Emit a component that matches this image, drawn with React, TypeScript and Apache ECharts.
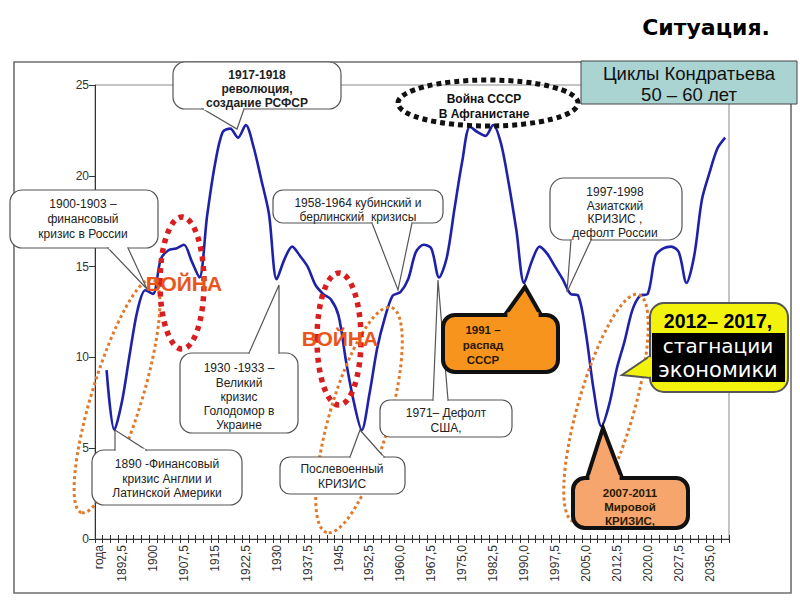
import React, { useEffect, useRef } from "react";
import * as echarts from "echarts";

// ---------- data ----------
const categoryCount = 82;
const tickLabels = [
  "года", "1892,5", "1900", "1907,5", "1915", "1922,5", "1930", "1937,5", "1945",
  "1952,5", "1960,0", "1967,5", "1975,0", "1982,5", "1990,0", "1997,5", "2005,0",
  "2012,5", "2020,0", "2027,5", "2035,0",
];
const values: (number | null)[] = [
  null, 9.3, 6.0, 7.6, 10.2, 12.6, 13.7, 13.5, 15.4, 15.9,
  16.0, 16.2, 15.3, 14.4, 17.8, 20.6, 22.4, 22.6, 22.1, 22.8,
  21.6, 19.8, 17.9, 14.3, 15.4, 16.1, 15.6, 15.0, 14.0, 13.5,
  13.2, 12.3, 9.7, 7.5, 6.0, 8.0, 10.5, 12.2, 13.4, 13.6,
  14.3, 15.8, 16.2, 16.0, 14.4, 15.5, 18.2, 20.8, 22.7, 22.4,
  22.2, 22.8, 21.8, 19.6, 17.0, 14.1, 15.3, 16.1, 15.7, 15.0,
  14.3, 13.5, 13.4, 11.3, 8.2, 6.2, 7.4, 9.4, 10.9, 12.6,
  13.4, 13.5, 15.6, 16.0, 16.1, 15.8, 14.1, 15.6, 18.7, 20.2,
  21.5, 22.1,
];
const yMin = 0;
const yMax = 25;
const yStep = 5;

const titleText = "Ситуация.";
const boxLines = ["Циклы Кондратьева", "50 – 60 лет"];
const warText = "ВОЙНА";
const afghanLines = ["Война СССР", "В Афганистане"];

const categories = Array.from({ length: categoryCount }, (_, i) => String(i));
const labelFor = (i: number) => {
  if (i === 0) return tickLabels[0];
  if (i >= 3 && (i - 3) % 4 === 0) return tickLabels[1 + (i - 3) / 4] ?? "";
  return "";
};

// ---------- annotations ----------
type Pt = [number, number];
type Callout = {
  x: number; y: number; w: number; h: number; r: number;
  fill: string; stroke: string; lw: number;
  base: [Pt, Pt]; tip: Pt;
  lines: string[]; ys: number[]; cx: number; font: string; color: string;
};

const REG = '12px "Liberation Sans", Arial, sans-serif';
const BOLD = 'bold 12px "Liberation Sans", Arial, sans-serif';
const BOLD11 = 'bold 11.5px "Liberation Sans", Arial, sans-serif';

const callouts: Callout[] = [
  {
    x: 173, y: 62, w: 168, h: 47, r: 12, fill: "#fff", stroke: "#555", lw: 1.2,
    base: [[203, 109], [244, 109]], tip: [237, 129],
    lines: ["1917-1918", "революция,", "создание РСФСР"], ys: [75, 89, 103], cx: 257,
    font: BOLD, color: "#222",
  },
  {
    x: 10, y: 190, w: 148, h: 58, r: 12, fill: "#fff", stroke: "#555", lw: 1.2,
    base: [[108, 248], [128, 248]], tip: [147, 289],
    lines: ["1900-1903 –", "финансовый", "кризис в России"], ys: [204, 219, 234], cx: 83,
    font: REG, color: "#222",
  },
  {
    x: 180, y: 353, w: 118, h: 80, r: 12, fill: "#fff", stroke: "#555", lw: 1.2,
    base: [[249, 353], [279, 353]], tip: [279, 285],
    lines: ["1930 -1933 –", "Великий", "кризис", "Голодомор в", "Украине"],
    ys: [368, 383, 397, 411, 425], cx: 239, font: REG, color: "#222",
  },
  {
    x: 92, y: 450, w: 150, h: 55, r: 12, fill: "#fff", stroke: "#555", lw: 1.2,
    base: [[115, 450], [146, 450]], tip: [115, 430],
    lines: ["1890 -Финансовый", "кризис Англии и", "Латинской Америки"],
    ys: [464, 479, 493], cx: 167, font: REG, color: "#222",
  },
  {
    x: 280, y: 457, w: 125, h: 37, r: 10, fill: "#fff", stroke: "#555", lw: 1.2,
    base: [[350, 457], [384, 457]], tip: [360, 430],
    lines: ["Послевоенный", "КРИЗИС"], ys: [469, 484], cx: 342, font: REG, color: "#222",
  },
  {
    x: 273, y: 190, w: 170, h: 33, r: 10, fill: "#fff", stroke: "#555", lw: 1.2,
    base: [[372, 223], [412, 223]], tip: [398, 290],
    lines: ["1958-1964 кубинский и", "берлинский  кризисы"], ys: [203, 217], cx: 358,
    font: REG, color: "#222",
  },
  {
    x: 380, y: 400, w: 132, h: 37, r: 10, fill: "#fff", stroke: "#555", lw: 1.2,
    base: [[433, 400], [448, 400]], tip: [438, 280],
    lines: ["1971– Дефолт", "США,"], ys: [413, 428], cx: 446, font: REG, color: "#222",
  },
  {
    x: 550, y: 178, w: 132, h: 62, r: 14, fill: "#fff", stroke: "#555", lw: 1.2,
    base: [[571, 240], [591, 240]], tip: [567, 292],
    lines: ["1997-1998", "Азиатский", "КРИЗИС ,", "дефолт России"],
    ys: [192, 206, 219, 233], cx: 615, font: REG, color: "#222",
  },
  {
    x: 443, y: 315, w: 115, h: 57, r: 12, fill: "#f7941d", stroke: "#111", lw: 4,
    base: [[505, 315], [541, 315]], tip: [525, 287],
    lines: ["1991 –", "распад", "СССР"], ys: [330, 345, 360], cx: 483,
    font: BOLD11, color: "#2a1800",
  },
  {
    x: 573, y: 478, w: 115, h: 50, r: 12, fill: "#f6a66c", stroke: "#111", lw: 4,
    base: [[587, 478], [622, 478]], tip: [603, 428],
    lines: ["2007-2011", "Мировой", "КРИЗИС,"], ys: [493, 507, 521], cx: 630,
    font: BOLD11, color: "#2a1800",
  },
  {
    x: 650, y: 303, w: 138, h: 89, r: 14, fill: "#f3f20c", stroke: "#555", lw: 2,
    base: [[650, 356], [650, 378]], tip: [622, 375],
    lines: [], ys: [], cx: 718, font: REG, color: "#000",
  },
];

function buildCallout(c: Callout, z: number): any[] {
  const [b0, b1] = c.base;
  const dx = b1[0] - b0[0];
  const dy = b1[1] - b0[1];
  const len = Math.hypot(dx, dy) || 1;
  const ux = dx / len;
  const uy = dy / len;
  const inset = c.lw * 0.6;
  const els: any[] = [
    {
      type: "rect", z, silent: true,
      shape: { x: c.x, y: c.y, width: c.w, height: c.h, r: c.r },
      style: { fill: c.fill, stroke: c.stroke, lineWidth: c.lw },
    },
    {
      type: "polygon", z: z + 1, silent: true,
      shape: { points: [b0, c.tip, b1] },
      style: { fill: c.fill, stroke: c.stroke, lineWidth: c.lw, lineJoin: "miter" },
    },
    {
      type: "line", z: z + 2, silent: true,
      shape: {
        x1: b0[0] + ux * inset, y1: b0[1] + uy * inset,
        x2: b1[0] - ux * inset, y2: b1[1] - uy * inset,
      },
      style: { stroke: c.fill, lineWidth: c.lw + 1.5 },
    },
  ];
  c.lines.forEach((t, i) => {
    els.push({
      type: "text", z: z + 3, silent: true, x: c.cx, y: c.ys[i],
      style: {
        text: t, font: c.font, fill: c.color,
        textAlign: "center", textVerticalAlign: "middle", align: "center", verticalAlign: "middle",
      },
    });
  });
  return els;
}

function txt(text: string, x: number, y: number, font: string, fill: string, z: number): any {
  return {
    type: "text", z, silent: true, x, y,
    style: {
      text, font, fill,
      textAlign: "center", textVerticalAlign: "middle", align: "center", verticalAlign: "middle",
    },
  };
}

function ellipse(cx: number, cy: number, rx: number, ry: number, deg: number, stroke: string, lw: number, dash: number[], z: number): any {
  return {
    type: "ellipse", z, silent: true, x: cx, y: cy, rotation: (deg * Math.PI) / 180,
    shape: { cx: 0, cy: 0, rx, ry },
    style: { fill: "none", stroke, lineWidth: lw, lineDash: dash, lineCap: "butt" },
  };
}

function buildGraphics(): any[] {
  const g: any[] = [];
  // outer frame
  g.push({
    type: "rect", z: 1, silent: true,
    shape: { x: 14, y: 62, width: 777, height: 531 },
    style: { fill: "none", stroke: "#6f6f6f", lineWidth: 1.6 },
  });
  // title
  g.push(txt(titleText, 706, 27, 'bold 22px "DejaVu Sans", sans-serif', "#000", 60));
  // Kondratiev box
  g.push({
    type: "rect", z: 60, silent: true,
    shape: { x: 581, y: 61, width: 216, height: 43 },
    style: { fill: "#a9d4d2", stroke: "#444", lineWidth: 1 },
  });
  g.push(txt(boxLines[0], 689, 73, '18.5px "Liberation Sans", Arial, sans-serif', "#111", 61));
  g.push(txt(boxLines[1], 689, 94, '18.5px "Liberation Sans", Arial, sans-serif', "#111", 61));

  // orange dotted ellipses
  const orange = "#e07a2a";
  g.push(ellipse(117, 396, 122, 25, 73, orange, 3, [3, 3], 40));
  g.push(ellipse(359, 420, 117, 30, 74, orange, 3, [3, 3], 40));
  g.push(ellipse(606, 408, 118, 28, 74, orange, 3, [3, 3], 40));

  // red dotted ellipses
  const red = "#d81e1e";
  g.push(ellipse(182, 283, 22, 66, 0, red, 5.5, [5, 5], 41));
  g.push(ellipse(339, 339, 22, 66, 0, red, 5.5, [5, 5], 41));

  // war labels
  const warFont = 'bold 21px "Liberation Sans", Arial, sans-serif';
  g.push(txt(warText, 184, 283, warFont, "#e8561c", 45));
  g.push(txt(warText, 340, 338, warFont, "#e8561c", 45));

  // Afghanistan dotted ellipse
  g.push(ellipse(488, 103, 90, 23, 0, "#111", 5, [5, 4], 42));
  g.push(txt(afghanLines[0], 484, 99, BOLD, "#111", 43));
  g.push(txt(afghanLines[1], 484, 114, BOLD, "#111", 43));

  let z = 50;
  callouts.forEach((c) => {
    g.push(...buildCallout(c, z));
    z += 5;
  });

  // yellow callout text
  const zz = z + 5;
  g.push(txt("2012– 2017,", 718, 321, 'bold 19.5px "Liberation Sans", Arial, sans-serif', "#000", zz));
  g.push({
    type: "rect", z: zz, silent: true,
    shape: { x: 652, y: 333, width: 133, height: 49 },
    style: { fill: "#000" },
  });
  g.push(txt("стагнации", 718, 346, '20px "DejaVu Sans", sans-serif', "#fff", zz + 1));
  g.push(txt("экономики", 718, 370, '21px "DejaVu Sans", sans-serif', "#fff", zz + 1));
  return g;
}

export default function App() {
  const ref = useRef<HTMLDivElement>(null);
  useEffect(() => {
    if (!ref.current) return;
    const chart = echarts.init(ref.current, undefined, { renderer: "svg" });
    const axisFont = { color: "#333", fontSize: 12, fontFamily: '"Liberation Sans", Arial, sans-serif' };
    chart.setOption({
      animation: false,
      backgroundColor: "#fff",
      grid: {
        left: 95, right: 71, top: 85, bottom: 61,
        show: true, borderColor: "#8a8a8a", borderWidth: 1, backgroundColor: "transparent",
      },
      xAxis: [
        {
          type: "category", data: categories, boundaryGap: true, position: "bottom",
          axisLine: { lineStyle: { color: "#333", width: 1 } },
          axisTick: { show: true, interval: 0, length: 4, lineStyle: { color: "#333" } },
          axisLabel: {
            interval: 0, rotate: 90, margin: 6, ...axisFont,
            formatter: (_v: string, i: number) => labelFor(i),
          },
          splitLine: { show: false },
        },
        {
          type: "category", data: categories, boundaryGap: true, position: "bottom",
          axisLine: { show: false },
          axisTick: { show: true, inside: true, interval: 0, length: 4, lineStyle: { color: "#333" } },
          axisLabel: { show: false },
          splitLine: { show: false },
        },
      ],
      yAxis: {
        type: "value", min: yMin, max: yMax, interval: yStep,
        axisLine: { show: true, lineStyle: { color: "#333", width: 1 } },
        axisTick: { show: true, length: 6, lineStyle: { color: "#333" } },
        axisLabel: { margin: 6, ...axisFont },
        splitLine: { show: false },
      },
      series: [
        {
          type: "line", data: values, xAxisIndex: 0, smooth: 0.3, symbol: "none",
          lineStyle: { color: "#1e22a8", width: 2.6 }, z: 3,
        },
      ],
      graphic: { elements: buildGraphics() },
    });
    return () => chart.dispose();
  }, []);
  return <div ref={ref} style={{ position: "fixed", left: 0, top: 0, width: 800, height: 600 }} />;
}
